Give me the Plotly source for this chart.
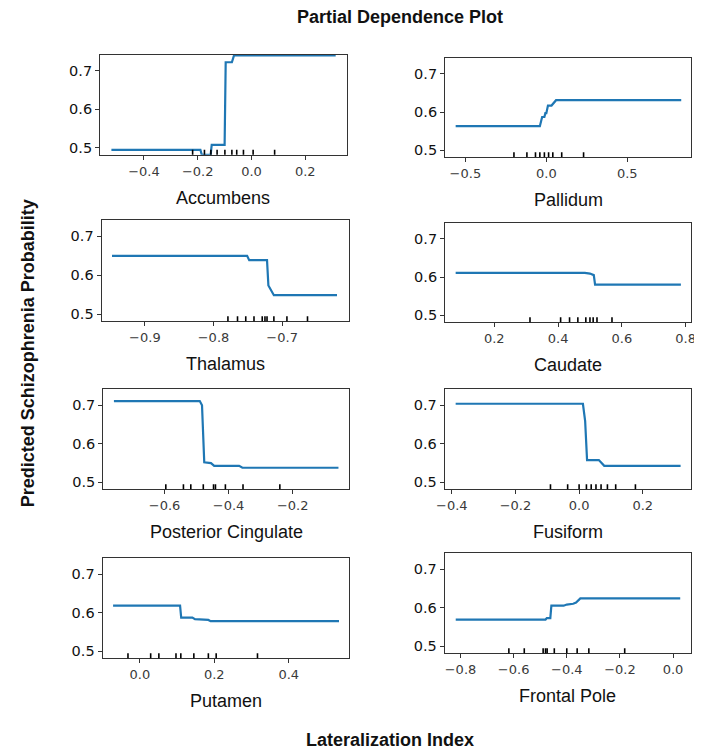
import plotly.graph_objects as go

# ---------------- data ----------------
features = ["Accumbens", "Pallidum", "Thalamus", "Caudate",
            "Posterior Cingulate", "Fusiform", "Putamen", "Frontal Pole"]

accumbens_x = [-0.521, -0.19, -0.185, -0.152, -0.148, -0.100, -0.096, -0.073, -0.065, 0.313]
accumbens_y = [0.495, 0.495, 0.482, 0.482, 0.508, 0.508, 0.722, 0.722, 0.740, 0.740]
accumbens_rug = [-0.219, -0.175, -0.151, -0.128, -0.099, -0.073, -0.055, -0.030, 0.006, 0.086]

pallidum_x = [-0.56, -0.04, -0.026, -0.012, -0.006, 0.0, 0.01, 0.032, 0.06, 0.833]
pallidum_y = [0.563, 0.563, 0.587, 0.587, 0.597, 0.597, 0.617, 0.617, 0.631, 0.631]
pallidum_rug = [-0.20, -0.12, -0.067, -0.04, -0.012, 0.014, 0.04, 0.095, 0.23]

thalamus_x = [-0.948, -0.751, -0.748, -0.722, -0.720, -0.712, -0.620]
thalamus_y = [0.650, 0.650, 0.639, 0.639, 0.574, 0.549, 0.549]
thalamus_rug = [-0.779, -0.765, -0.753, -0.741, -0.729, -0.725, -0.722, -0.712, -0.693, -0.663]

caudate_x = [0.079, 0.484, 0.50, 0.512, 0.516, 0.785]
caudate_y = [0.611, 0.611, 0.609, 0.605, 0.580, 0.580]
caudate_rug = [0.312, 0.408, 0.436, 0.462, 0.487, 0.50, 0.51, 0.522, 0.569]

postcing_x = [-0.758, -0.49, -0.483, -0.476, -0.455, -0.445, -0.367, -0.357, -0.057]
postcing_y = [0.711, 0.711, 0.700, 0.552, 0.550, 0.543, 0.543, 0.538, 0.538]
postcing_rug = [-0.596, -0.541, -0.518, -0.479, -0.447, -0.441, -0.41, -0.355, -0.24]

fusiform_x = [-0.388, 0.012, 0.019, 0.025, 0.062, 0.079, 0.319]
fusiform_y = [0.704, 0.704, 0.659, 0.558, 0.558, 0.543, 0.543]
fusiform_rug = [-0.09, -0.036, 0.0, 0.023, 0.038, 0.053, 0.069, 0.089, 0.115, 0.177]

putamen_x = [-0.072, 0.108, 0.111, 0.141, 0.148, 0.184, 0.19, 0.535]
putamen_y = [0.618, 0.618, 0.587, 0.587, 0.583, 0.581, 0.578, 0.578]
putamen_rug = [-0.032, 0.029, 0.051, 0.097, 0.11, 0.145, 0.184, 0.205, 0.316]

frontal_x = [-0.818, -0.48, -0.475, -0.462, -0.458, -0.412, -0.40, -0.376, -0.365, -0.349, 0.027]
frontal_y = [0.569, 0.569, 0.573, 0.573, 0.605, 0.605, 0.608, 0.610, 0.613, 0.624, 0.624]
frontal_rug = [-0.618, -0.56, -0.489, -0.48, -0.474, -0.447, -0.40, -0.361, -0.317, -0.182]

y_tick_vals = [0.5, 0.6, 0.7]

title_text = "Partial Dependence Plot"
y_title = "Predicted Schizophrenia Probability"
x_title = "Lateralization Index"

series_x = [accumbens_x, pallidum_x, thalamus_x, caudate_x,
            postcing_x, fusiform_x, putamen_x, frontal_x]
series_y = [accumbens_y, pallidum_y, thalamus_y, caudate_y,
            postcing_y, fusiform_y, putamen_y, frontal_y]
rugs = [accumbens_rug, pallidum_rug, thalamus_rug, caudate_rug,
        postcing_rug, fusiform_rug, putamen_rug, frontal_rug]

# ---------------- layout (pixel boxes, page coordinates) ----------------
OFF = 8  # default page body margin
W, H = 702 - OFF, 754 - OFF


def px(xp):
    return (xp - OFF) / W


def py(yp):
    return 1 - (yp - OFF) / H


boxes = [  # left, right, top, bottom in page px
    (92.7, 344.0, 55.0, 155.0),
    (444.3, 695.3, 58.3, 157.3),
    (94.3, 346.0, 220.7, 321.7),
    (444.3, 695.3, 223.3, 322.7),
    (96.0, 346.7, 390.0, 490.0),
    (444.0, 695.3, 390.0, 490.0),
    (95.3, 346.0, 559.0, 659.0),
    (444.0, 695.0, 554.0, 654.0),
]
x_ranges = [(-0.563, 0.354), (-0.625, 0.896), (-0.963, -0.603), (0.046, 0.818),
            (-0.791, -0.023), (-0.422, 0.353), (-0.10, 0.561), (-0.859, 0.068)]
x_dticks = [0.2, 0.5, 0.1, 0.2, 0.2, 0.2, 0.2, 0.2]
y_range = (0.482, 0.741)

LINE_BLUE = "#1f77b4"
AXIS_COL = "#333333"

fig = go.Figure()
shapes = []
annotations = []
layout_axes = {}

for i in range(8):
    n = "" if i == 0 else str(i + 1)
    xa, ya = "x" + n, "y" + n
    l, r, t, b = boxes[i]
    fig.add_trace(go.Scatter(x=series_x[i], y=series_y[i], mode="lines",
                             line=dict(color=LINE_BLUE, width=2.2),
                             xaxis=xa, yaxis=ya, showlegend=False,
                             hoverinfo="skip"))
    layout_axes["xaxis" + n] = dict(
        domain=[px(l), px(r)], anchor=ya, range=list(x_ranges[i]),
        dtick=x_dticks[i], tick0=0, tickformat=".1f",
        showline=True, mirror=True, linecolor=AXIS_COL, linewidth=1.2,
        ticks="outside", ticklen=4, tickwidth=1.2, tickcolor=AXIS_COL,
        showgrid=False, zeroline=False,
        tickfont=dict(family="DejaVu Sans", size=13, color="#3a3a3a"),
    )
    layout_axes["yaxis" + n] = dict(
        domain=[py(b), py(t)], anchor=xa, range=list(y_range),
        tickvals=y_tick_vals, tickformat=".1f",
        showline=True, mirror=True, linecolor=AXIS_COL, linewidth=1.2,
        ticks="outside", ticklen=4, tickwidth=1.2, tickcolor=AXIS_COL,
        showgrid=False, zeroline=False,
        tickfont=dict(family="DejaVu Sans", size=14.5, color="#111111"),
    )
    for v in rugs[i]:
        shapes.append(dict(type="line", xref=xa, yref=ya + " domain",
                           x0=v, x1=v, y0=0, y1=0.05,
                           line=dict(color="black", width=1.6)))
    annotations.append(dict(
        text=features[i], xref="paper", yref="paper",
        x=px((l + r) / 2), y=py(b + 43),
        xanchor="center", yanchor="middle", showarrow=False,
        font=dict(family="Liberation Sans", size=18, color="#111111")))

annotations.append(dict(text="<b>" + title_text + "</b>", xref="paper", yref="paper",
                        x=px(398), y=py(17), xanchor="center", yanchor="middle",
                        showarrow=False,
                        font=dict(family="Liberation Sans", size=18, color="#111111")))
annotations.append(dict(text="<b>" + x_title + "</b>", xref="paper", yref="paper",
                        x=px(388), y=py(741), xanchor="center", yanchor="middle",
                        showarrow=False,
                        font=dict(family="Liberation Sans", size=18, color="#111111")))
annotations.append(dict(text="<b>" + y_title + "</b>", xref="paper", yref="paper",
                        x=px(19), y=py(354), xanchor="center", yanchor="middle",
                        textangle=-90, showarrow=False,
                        font=dict(family="Liberation Sans", size=18, color="#111111")))

fig.update_layout(
    width=W, height=H,
    margin=dict(l=0, r=0, t=0, b=0),
    paper_bgcolor="white", plot_bgcolor="white",
    shapes=shapes, annotations=annotations,
    **layout_axes,
)

fig.write_html("out.html")
